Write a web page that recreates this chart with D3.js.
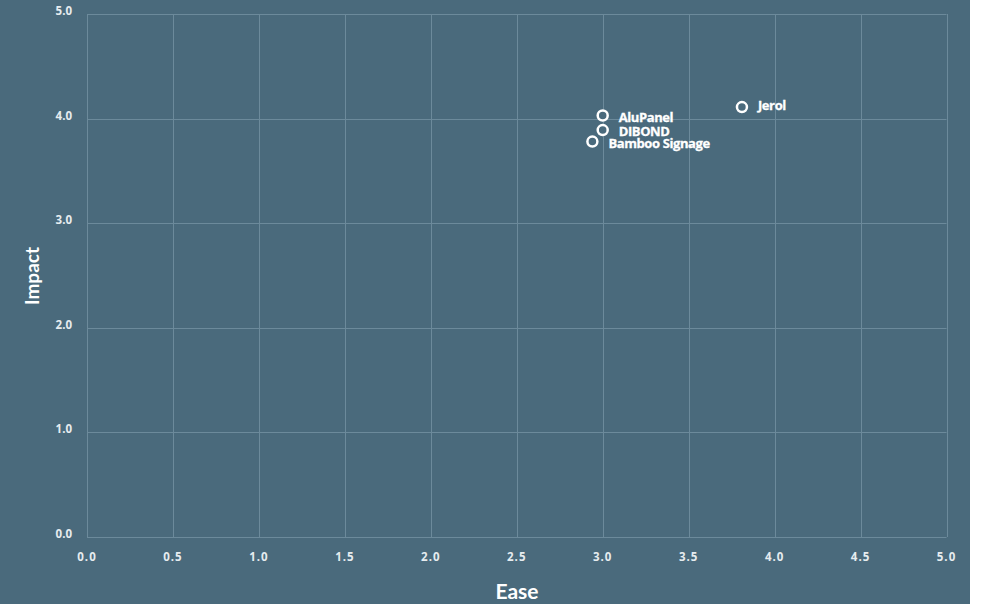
<!DOCTYPE html>
<html><head><meta charset="utf-8">
<script src="https://cdn.jsdelivr.net/npm/d3@7"></script>
<style>
html,body{margin:0;padding:0;background:#fff;}
svg{display:block;}
</style></head>
<body>
<script>
const names = ["AluPanel", "DIBOND", "Bamboo Signage", "Jerol"];
const ease = [3.0, 3.0, 2.94, 3.81];
const impact = [4.03, 3.89, 3.78, 4.11];
const xTicks = [0, 0.5, 1, 1.5, 2, 2.5, 3, 3.5, 4, 4.5, 5];
const yTicks = [0, 1, 2, 3, 4, 5];
const labelDy = [1.5, 1, 1, -2];

const W = 982, H = 604;
const bg = "#4a6a7c";
const svg = d3.select("body").append("svg").attr("width", W).attr("height", H);
svg.append("rect").attr("x", 0).attr("y", 0).attr("width", 970).attr("height", H).attr("fill", bg);

const x = d3.scaleLinear().domain([0, 5]).range([87, 946.5]);
const y = d3.scaleLinear().domain([0, 5]).range([537, 14]);

const grid = svg.append("g").attr("stroke", "#7593a3").attr("stroke-width", 1).attr("opacity", 0.8);
grid.selectAll("line.v").data(xTicks).join("line")
  .attr("x1", d => Math.round(x(d)) + 0.5).attr("x2", d => Math.round(x(d)) + 0.5)
  .attr("y1", y(0)).attr("y2", y(5));
grid.selectAll("line.h").data(yTicks).join("line")
  .attr("y1", d => Math.round(y(d)) + 0.5).attr("y2", d => Math.round(y(d)) + 0.5)
  .attr("x1", x(0)).attr("x2", x(5));

const tickFont = "'Open Sans', sans-serif";
svg.append("g").selectAll("text").data(xTicks).join("text")
  .attr("x", d => x(d)).attr("y", 561)
  .attr("text-anchor", "middle")
  .attr("fill", "#e6ecef").attr("font-family", tickFont).attr("font-size", 11.5)
  .attr("font-weight", 700).attr("letter-spacing", 1)
  .text(d => d3.format(".1f")(d));
svg.append("g").selectAll("text").data(yTicks).join("text")
  .attr("x", 72).attr("y", d => y(d) + 1)
  .attr("text-anchor", "end")
  .attr("fill", "#e6ecef").attr("font-family", tickFont).attr("font-size", 11.5)
  .attr("font-weight", 700)
  .text(d => d3.format(".1f")(d));

svg.append("text").attr("x", 517).attr("y", 599).attr("text-anchor", "middle")
  .attr("fill", "#ffffff").attr("font-family", "Lato, sans-serif").attr("font-weight", 700)
  .attr("font-size", 21).text("Ease");
svg.append("text").attr("transform", "translate(39,276) rotate(-90)").attr("text-anchor", "middle")
  .attr("fill", "#ffffff").attr("font-family", "Lato, sans-serif").attr("font-weight", 700)
  .attr("font-size", 19).text("Impact");

const pts = names.map((n, i) => ({n, e: ease[i], v: impact[i], dy: labelDy[i]}));
const g = svg.append("g");
g.selectAll("circle").data(pts).join("circle")
  .attr("cx", d => x(d.e)).attr("cy", d => y(d.v)).attr("r", 5)
  .attr("fill", bg).attr("stroke", "#ffffff").attr("stroke-width", 2.5);
g.selectAll("text").data(pts).join("text")
  .attr("x", d => x(d.e) + 16).attr("y", d => y(d.v) + 5 + d.dy)
  .attr("fill", "#ffffff").attr("font-family", "'Open Sans', sans-serif").attr("font-weight", 700)
  .attr("font-size", 13).attr("letter-spacing", -0.4).attr("stroke", "#ffffff").attr("stroke-width", 0.3)
  .text(d => d.n);
</script>
</body></html>
